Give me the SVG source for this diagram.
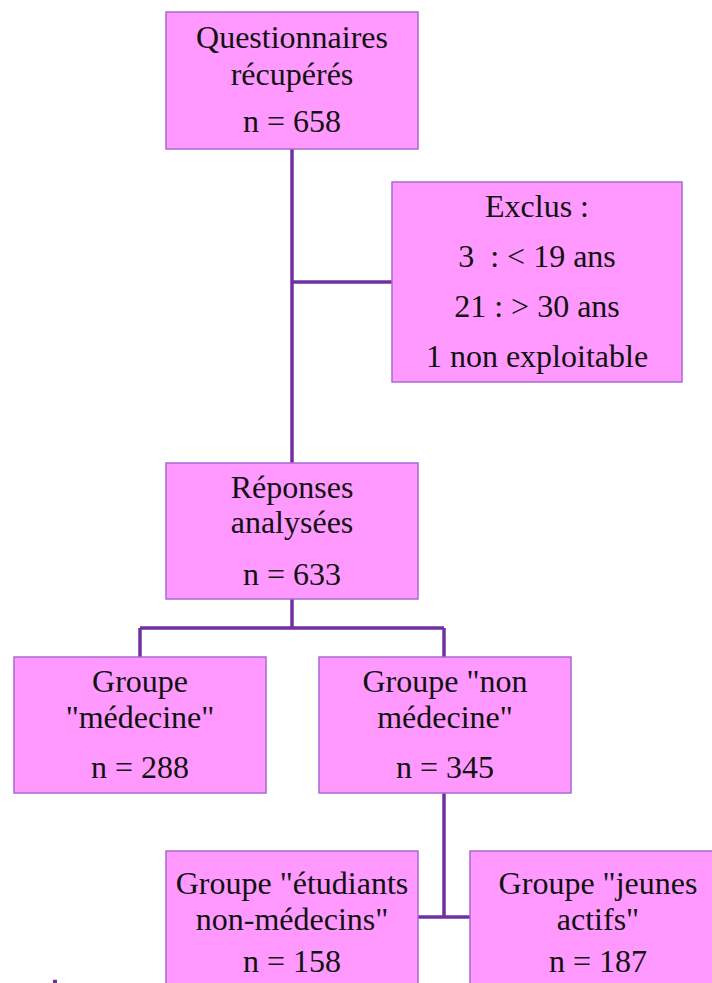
<svg xmlns="http://www.w3.org/2000/svg" width="712" height="983" viewBox="0 0 712 983">
<style>
.box{fill:#ff99ff;stroke:#a86ad0;stroke-width:1.5}
.t{font-family:"Liberation Serif",Tinos,"Noto Serif","Nimbus Roman","FreeSerif","DejaVu Serif",Times,serif;font-size:32px;fill:#111;text-anchor:middle}
.c{stroke:#7030a0;stroke-width:3.5;fill:none}
</style>
<rect width="712" height="983" fill="#ffffff"/>
<g id="connectors">
<path class="c" d="M292 149 V463"/>
<path class="c" d="M292 282 H392"/>
<path class="c" d="M292 599 V628 M140 628 H444 M140 628 V657 M444 628 V657"/>
<path class="c" d="M444 793 V917 M418 917 H470"/>
<path class="c" d="M53 981.5 H57"/>
</g>
<g id="n1">
<rect class="box" x="166" y="12" width="252" height="137"/>
<text class="t" x="292" y="48">Questionnaires</text>
<text class="t" x="292" y="85">récupérés</text>
<text class="t" x="292" y="132">n = 658</text>
</g>
<g id="n2">
<rect class="box" x="392" y="182" width="290" height="200"/>
<text class="t" x="537" y="217">Exclus :</text>
<text class="t" x="537" y="267" xml:space="preserve">3  : &lt; 19 ans</text>
<text class="t" x="537" y="317">21 : &gt; 30 ans</text>
<text class="t" x="537" y="367">1 non exploitable</text>
</g>
<g id="n3">
<rect class="box" x="166" y="463" width="252" height="136"/>
<text class="t" x="292" y="498">Réponses</text>
<text class="t" x="292" y="533">analysées</text>
<text class="t" x="292" y="585">n = 633</text>
</g>
<g id="n4">
<rect class="box" x="14" y="657" width="252" height="136"/>
<text class="t" x="140" y="692">Groupe</text>
<text class="t" x="140" y="728">"médecine"</text>
<text class="t" x="140" y="778">n = 288</text>
</g>
<g id="n5">
<rect class="box" x="319" y="657" width="252" height="136"/>
<text class="t" x="445" y="692">Groupe "non</text>
<text class="t" x="445" y="728">médecine"</text>
<text class="t" x="445" y="778">n = 345</text>
</g>
<g id="n6">
<rect class="box" x="166" y="851" width="252" height="150"/>
<text class="t" x="292" y="894">Groupe "étudiants</text>
<text class="t" x="292" y="930">non-médecins"</text>
<text class="t" x="292" y="972">n = 158</text>
</g>
<g id="n7">
<rect class="box" x="470" y="851" width="256" height="150"/>
<text class="t" x="598" y="894">Groupe "jeunes</text>
<text class="t" x="598" y="930">actifs"</text>
<text class="t" x="598" y="972">n = 187</text>
</g>
</svg>
